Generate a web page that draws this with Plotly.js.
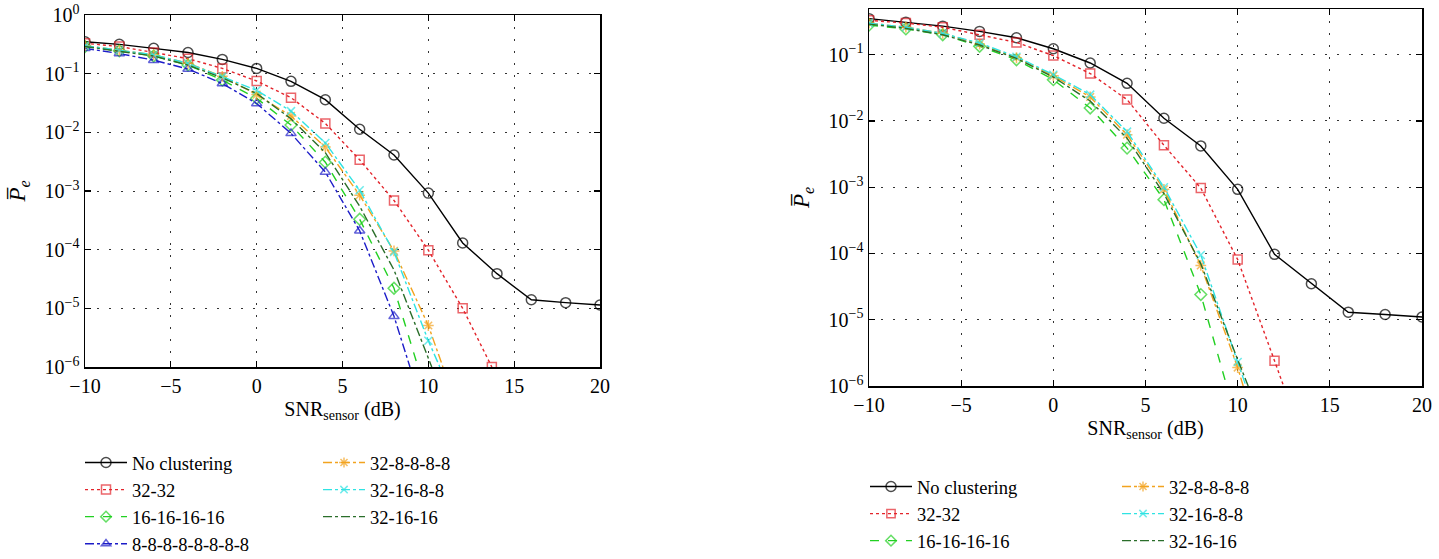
<!DOCTYPE html>
<html>
<head>
<meta charset="utf-8">
<script src="https://cdn.plot.ly/plotly-3.0.1.min.js"></script>
<style>
html,body{margin:0;padding:0;background:#fff;}
#chart{width:1439px;height:559px;}
</style>
</head>
<body>
<div id="chart"></div>
<script>
// ---------- DATA ----------
const snr = [-10,-8,-6,-4,-2,0,2,4,6,8,10,12,14,16,18,20];
const yTickVals = [1e-6,1e-5,1e-4,1e-3,1e-2,1e-1,1];
const yTickText = ['10<sup>−6</sup>','10<sup>−5</sup>','10<sup>−4</sup>','10<sup>−3</sup>','10<sup>−2</sup>','10<sup>−1</sup>','10<sup>0</sup>'];
const xTickVals = [-10,-5,0,5,10,15,20];
const seriesNames = ['No clustering','32-32','16-16-16-16','8-8-8-8-8-8-8-8','32-8-8-8-8','32-16-8-8','32-16-16'];

// Left panel
const L_noClust = [0.35,0.316,0.27,0.23,0.175,0.123,0.074,0.036,0.0113,0.0041,9.2e-4,1.3e-4,3.9e-5,1.4e-5,1.25e-5,1.14e-5];
const L_x32_32 = [-10,-8,-6,-4,-2,0,2,4,6,8,10,12,13.7];
const L_p32_32 = [0.33,0.29,0.23,0.18,0.123,0.075,0.039,0.0142,0.0034,6.9e-4,9.8e-5,1.0e-5,1.0e-6];
const L_x16x4 = [-10,-8,-6,-4,-2,0,2,4,6,8];
const L_p16x4 = [0.29,0.245,0.2,0.14,0.078,0.038,0.0133,0.0031,3.3e-4,2.2e-5];
const L_end16x4 = [9.4,1e-6];
const L_x8x8 = [-10,-8,-6,-4,-2,0,2,4,6,8];
const L_p8x8 = [0.27,0.22,0.17,0.12,0.068,0.031,0.0096,0.0021,2.1e-4,7.3e-6];
const L_end8x8 = [8.93,1e-6];
const L_x32_8 = [-10,-8,-6,-4,-2,0,2,4,6,8,10];
const L_p32_8 = [0.30,0.25,0.21,0.15,0.09,0.044,0.019,0.0056,8.5e-4,9.5e-5,5.1e-6];
const L_end32_8 = [10.85,1e-6];
const L_x32_16_8 = [-10,-8,-6,-4,-2,0,2,4,6,8,10];
const L_p32_16_8 = [0.30,0.25,0.21,0.15,0.089,0.052,0.023,0.0066,1.03e-3,9.1e-5,2.8e-6];
const L_end32_16_8 = [10.67,1e-6];
const L_x32_16 = [-10,-8,-6,-4,-2,0,2,4,6,8,10];
const L_p32_16 = [0.29,0.24,0.2,0.14,0.085,0.046,0.017,0.0045,5.5e-4,4.5e-5,1.5e-6];
const L_end32_16 = [10.2,1e-6];

// Right panel
const R_noClust = [0.35,0.31,0.27,0.225,0.18,0.123,0.075,0.037,0.011,0.0042,9.3e-4,9.7e-5,3.5e-5,1.3e-5,1.2e-5,1.1e-5];
const R_x32_32 = [-10,-8,-6,-4,-2,0,2,4,6,8,10,12];
const R_p32_32 = [0.33,0.30,0.26,0.2,0.153,0.097,0.052,0.021,0.0043,9.7e-4,8.1e-5,2.4e-6];
const R_end32_32 = [12.49,1e-6];
const R_x16x4 = [-10,-8,-6,-4,-2,0,2,4,6,8];
const R_p16x4 = [0.28,0.245,0.2,0.134,0.084,0.042,0.0157,0.0039,6.5e-4,2.4e-5];
const R_end16x4 = [9.41,1e-6];
const R_x32_8 = [-10,-8,-6,-4,-2,0,2,4,6,8,10];
const R_p32_8 = [0.30,0.26,0.21,0.145,0.09,0.048,0.023,0.0062,9.3e-4,6.6e-5,1.9e-6];
const R_end32_8 = [10.3,1e-6];
const R_x32_16_8 = [-10,-8,-6,-4,-2,0,2,4,6,8,10];
const R_p32_16_8 = [0.30,0.26,0.21,0.15,0.093,0.05,0.025,0.0069,1.0e-3,9.5e-5,2.3e-6];
const R_end32_16_8 = [10.45,1e-6];
const R_x32_16 = [-10,-8,-6,-4,-2,0,2,4,6,8,10];
const R_p32_16 = [0.29,0.25,0.2,0.14,0.088,0.046,0.02,0.0055,8e-4,7e-5,2.5e-6];
const R_end32_16 = [10.57,1e-6];

// ---------- STYLES ----------
const FONT = 'Liberation Serif, Times New Roman, serif';
const styles = {
  'No clustering':   {color:'#000000', dash:'solid',   symbol:'circle-open',      size:10},
  '32-32':           {color:'#e3242b', dash:'dot',     symbol:'square-open',      size:9},
  '16-16-16-16':     {color:'#22d022', dash:'dash',    symbol:'diamond-open',     size:9},
  '8-8-8-8-8-8-8-8': {color:'#1c1cc8', dash:'dashdot', symbol:'triangle-up-open', size:9},
  '32-8-8-8-8':      {color:'#f2a31f', dash:'dashdot', symbol:'asterisk-open',    size:9},
  '32-16-8-8':       {color:'#2fe3e3', dash:'dashdot', symbol:'x-thin-open',      size:8},
  '32-16-16':        {color:'#2a6e2a', dash:'dashdot', symbol:null,               size:0}
};

function trace(name, xs, ys, end, panel, legendId) {
  const st = styles[name];
  let x = xs.slice(), y = ys.slice();
  let sizes = xs.map(() => st.size);
  if (end) { x.push(end[0]); y.push(end[1]); sizes.push(0); }
  const t = {
    type:'scatter', name:name, x:x, y:y,
    xaxis: panel === 'L' ? 'x' : 'x2',
    yaxis: panel === 'L' ? 'y' : 'y2',
    legend: legendId,
    line:{color:st.color, width:1.4, dash:st.dash},
    cliponaxis:true
  };
  if (st.symbol) {
    t.mode = 'lines+markers';
    t.marker = {symbol:st.symbol, size:sizes, color:st.color, line:{color:st.color, width:1.5}};
  } else {
    t.mode = 'lines';
  }
  return t;
}

const data = [
  trace('No clustering', snr, L_noClust, null, 'L', 'legend'),
  trace('32-32', L_x32_32, L_p32_32, null, 'L', 'legend'),
  trace('16-16-16-16', L_x16x4, L_p16x4, L_end16x4, 'L', 'legend'),
  trace('8-8-8-8-8-8-8-8', L_x8x8, L_p8x8, L_end8x8, 'L', 'legend'),
  trace('32-8-8-8-8', L_x32_8, L_p32_8, L_end32_8, 'L', 'legend2'),
  trace('32-16-8-8', L_x32_16_8, L_p32_16_8, L_end32_16_8, 'L', 'legend2'),
  trace('32-16-16', L_x32_16, L_p32_16, L_end32_16, 'L', 'legend2'),

  trace('No clustering', snr, R_noClust, null, 'R', 'legend3'),
  trace('32-32', R_x32_32, R_p32_32, R_end32_32, 'R', 'legend3'),
  trace('16-16-16-16', R_x16x4, R_p16x4, R_end16x4, 'R', 'legend3'),
  trace('32-8-8-8-8', R_x32_8, R_p32_8, R_end32_8, 'R', 'legend4'),
  trace('32-16-8-8', R_x32_16_8, R_p32_16_8, R_end32_16_8, 'R', 'legend4'),
  trace('32-16-16', R_x32_16, R_p32_16, R_end32_16, 'R', 'legend4')
];

const W = 1439, H = 559;
const px = v => v / W;
const py = v => 1 - v / H;

function xAxis(domain, anchor, standoff) {
  return {
    domain: domain, anchor: anchor, range:[-10,20],
    tickvals: xTickVals, ticks:'inside', ticklen:6, tickwidth:1.2, tickcolor:'#000',
    showline:true, linecolor:'#000', linewidth:1.5, mirror:'ticks',
    showgrid:true, gridcolor:'#333', gridwidth:1, griddash:'2px,10px',
    zeroline:false, automargin:false,
    tickfont:{family:FONT, size:20, color:'#000'},
    title:{text:'SNR<sub>sensor</sub> (dB)', font:{family:FONT, size:20, color:'#000'}, standoff:standoff}
  };
}
function yAxis(domain, anchor, range) {
  return {
    domain: domain, anchor: anchor, type:'log', range: range,
    tickvals: yTickVals, ticktext: yTickText,
    ticks:'inside', ticklen:6, tickwidth:1.2, tickcolor:'#000',
    showline:true, linecolor:'#000', linewidth:1.5, mirror:'ticks',
    showgrid:true, gridcolor:'#333', gridwidth:1, griddash:'2px,10px',
    zeroline:false, automargin:false,
    tickfont:{family:FONT, size:20, color:'#000'},
    title:{text:'<i>P\u0305<sub>e</sub></i>', font:{family:FONT, size:23, color:'#000'}, standoff:12}
  };
}
function legend(xpx, ypx) {
  return {
    x: px(xpx), y: py(ypx), xanchor:'left', yanchor:'top',
    bgcolor:'rgba(0,0,0,0)', borderwidth:0, itemwidth:42,
    font:{family:FONT, size:18.5, color:'#000'},
    traceorder:'normal', itemclick:false
  };
}

const layout = {
  width:W, height:H,
  margin:{l:0, r:0, t:0, b:0, autoexpand:false},
  paper_bgcolor:'#fff', plot_bgcolor:'#fff',
  showlegend:true,
  xaxis:  xAxis([px(85), px(600)], 'y', 6),
  yaxis:  yAxis([py(367), py(15)], 'x', [-6, 0]),
  xaxis2: xAxis([px(869), px(1422)], 'y2', 6),
  yaxis2: yAxis([py(386), py(9)], 'x2', [-6, -0.31]),
  legend:  legend(80, 444),
  legend2: legend(318, 444),
  legend3: legend(865, 468),
  legend4: legend(1117, 468)
};

Plotly.newPlot('chart', data, layout, {staticPlot:true, displayModeBar:false});
</script>
</body>
</html>
